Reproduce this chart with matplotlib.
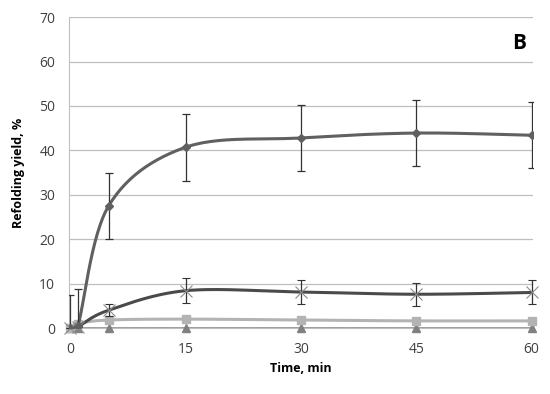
import numpy as np
import matplotlib
matplotlib.use("Agg")
import matplotlib.pyplot as plt

time = [0, 1, 5, 15, 30, 45, 60]
s_diamond = [0, 0.5, 27.5, 40.7, 42.8, 43.9, 43.4]
e_diamond = [7.5, 8.2, 7.5, 7.5, 7.5, 7.5, 7.4]
s_cross = [0, 0.3, 4.0, 8.4, 8.1, 7.6, 8.0]
e_cross = [0, 0, 1.3, 2.8, 2.7, 2.6, 2.7]
s_square = [0, 1.0, 1.8, 2.0, 1.8, 1.6, 1.6]
s_tri = [0, 0, 0, 0, 0, 0, 0]
xticks = [0, 15, 30, 45, 60]
yticks = [0, 10, 20, 30, 40, 50, 60, 70]

plt.rcParams['font.family'] = ['Open Sans', 'DejaVu Sans']

def smooth(x, y, n=30):
    x = np.asarray(x, float); y = np.asarray(y, float)
    px = np.concatenate([[x[0]], x, [x[-1]]])
    py = np.concatenate([[y[0]], y, [y[-1]]])
    xs, ys = [], []
    for i in range(1, len(px) - 2):
        p0, p1, p2, p3 = [np.array([px[j], py[j]]) for j in (i - 1, i, i + 1, i + 2)]
        c1 = p1 + (p2 - p0) / 6
        c2 = p2 - (p3 - p1) / 6
        t = np.linspace(0, 1, n)[:, None]
        b = (1 - t) ** 3 * p1 + 3 * (1 - t) ** 2 * t * c1 + 3 * (1 - t) * t ** 2 * c2 + t ** 3 * p2
        xs.append(b[:, 0]); ys.append(b[:, 1])
    return np.concatenate(xs), np.concatenate(ys)

fig = plt.figure(figsize=(5.5, 3.94), dpi=100)
ax = fig.add_axes([0.1255, 0.1675, 0.844, 0.789])

ax.set_xlim(-0.15, 60.2)
ax.set_ylim(0, 70)
for yv in yticks[1:]:
    ax.axhline(yv, color='#bfbfbf', lw=0.9, zorder=0)

c_d = '#606060'; c_x = '#4a4a4a'; c_s = '#b3b3b3'; c_t = '#808080'

xs, ys = smooth(time, s_tri)
ax.plot(xs, ys, color=c_t, lw=1.8, zorder=2)
ax.plot(time, s_tri, ls='none', marker='^', ms=6, color=c_t, zorder=3, clip_on=False)

xs, ys = smooth(time, s_square)
ax.plot(xs, ys, color=c_s, lw=2.2, zorder=2)
ax.plot(time, s_square, ls='none', marker='s', ms=6, color=c_s, zorder=3, clip_on=False)

xs, ys = smooth(time, s_cross)
ax.plot(xs, ys, color=c_x, lw=2.2, zorder=4)
ax.errorbar(time, s_cross, yerr=e_cross, ls='none', marker='x', ms=8, mew=0.8,
            color='#8c8c8c', ecolor='#333333', elinewidth=0.9, capsize=3, capthick=0.9,
            zorder=5, clip_on=False)

xs, ys = smooth(time, s_diamond)
ax.plot(xs, ys, color=c_d, lw=2.2, zorder=4)
ax.errorbar(time, s_diamond, yerr=e_diamond, ls='none', marker='D', ms=4.5,
            color=c_d, ecolor='#333333', elinewidth=0.9, capsize=3, capthick=0.9, zorder=5)

for sp in ['top', 'right']:
    ax.spines[sp].set_visible(False)
ax.spines['left'].set_color('#bfbfbf')
ax.spines['bottom'].set_color('#bfbfbf')
ax.tick_params(length=0, labelsize=10, labelcolor='#404040', pad=10)
ax.set_xticks(xticks)
ax.set_yticks(yticks)

ax.set_xlabel('Time, min', fontsize=9, fontweight='bold', labelpad=4)
ax.set_ylabel('Refolding yield, %', fontsize=9, fontweight='bold', labelpad=10)
ax.text(0.97, 0.915, 'B', transform=ax.transAxes, fontsize=15, fontweight='bold',
        ha='center', va='center')

fig.savefig('out.png', dpi=100)
